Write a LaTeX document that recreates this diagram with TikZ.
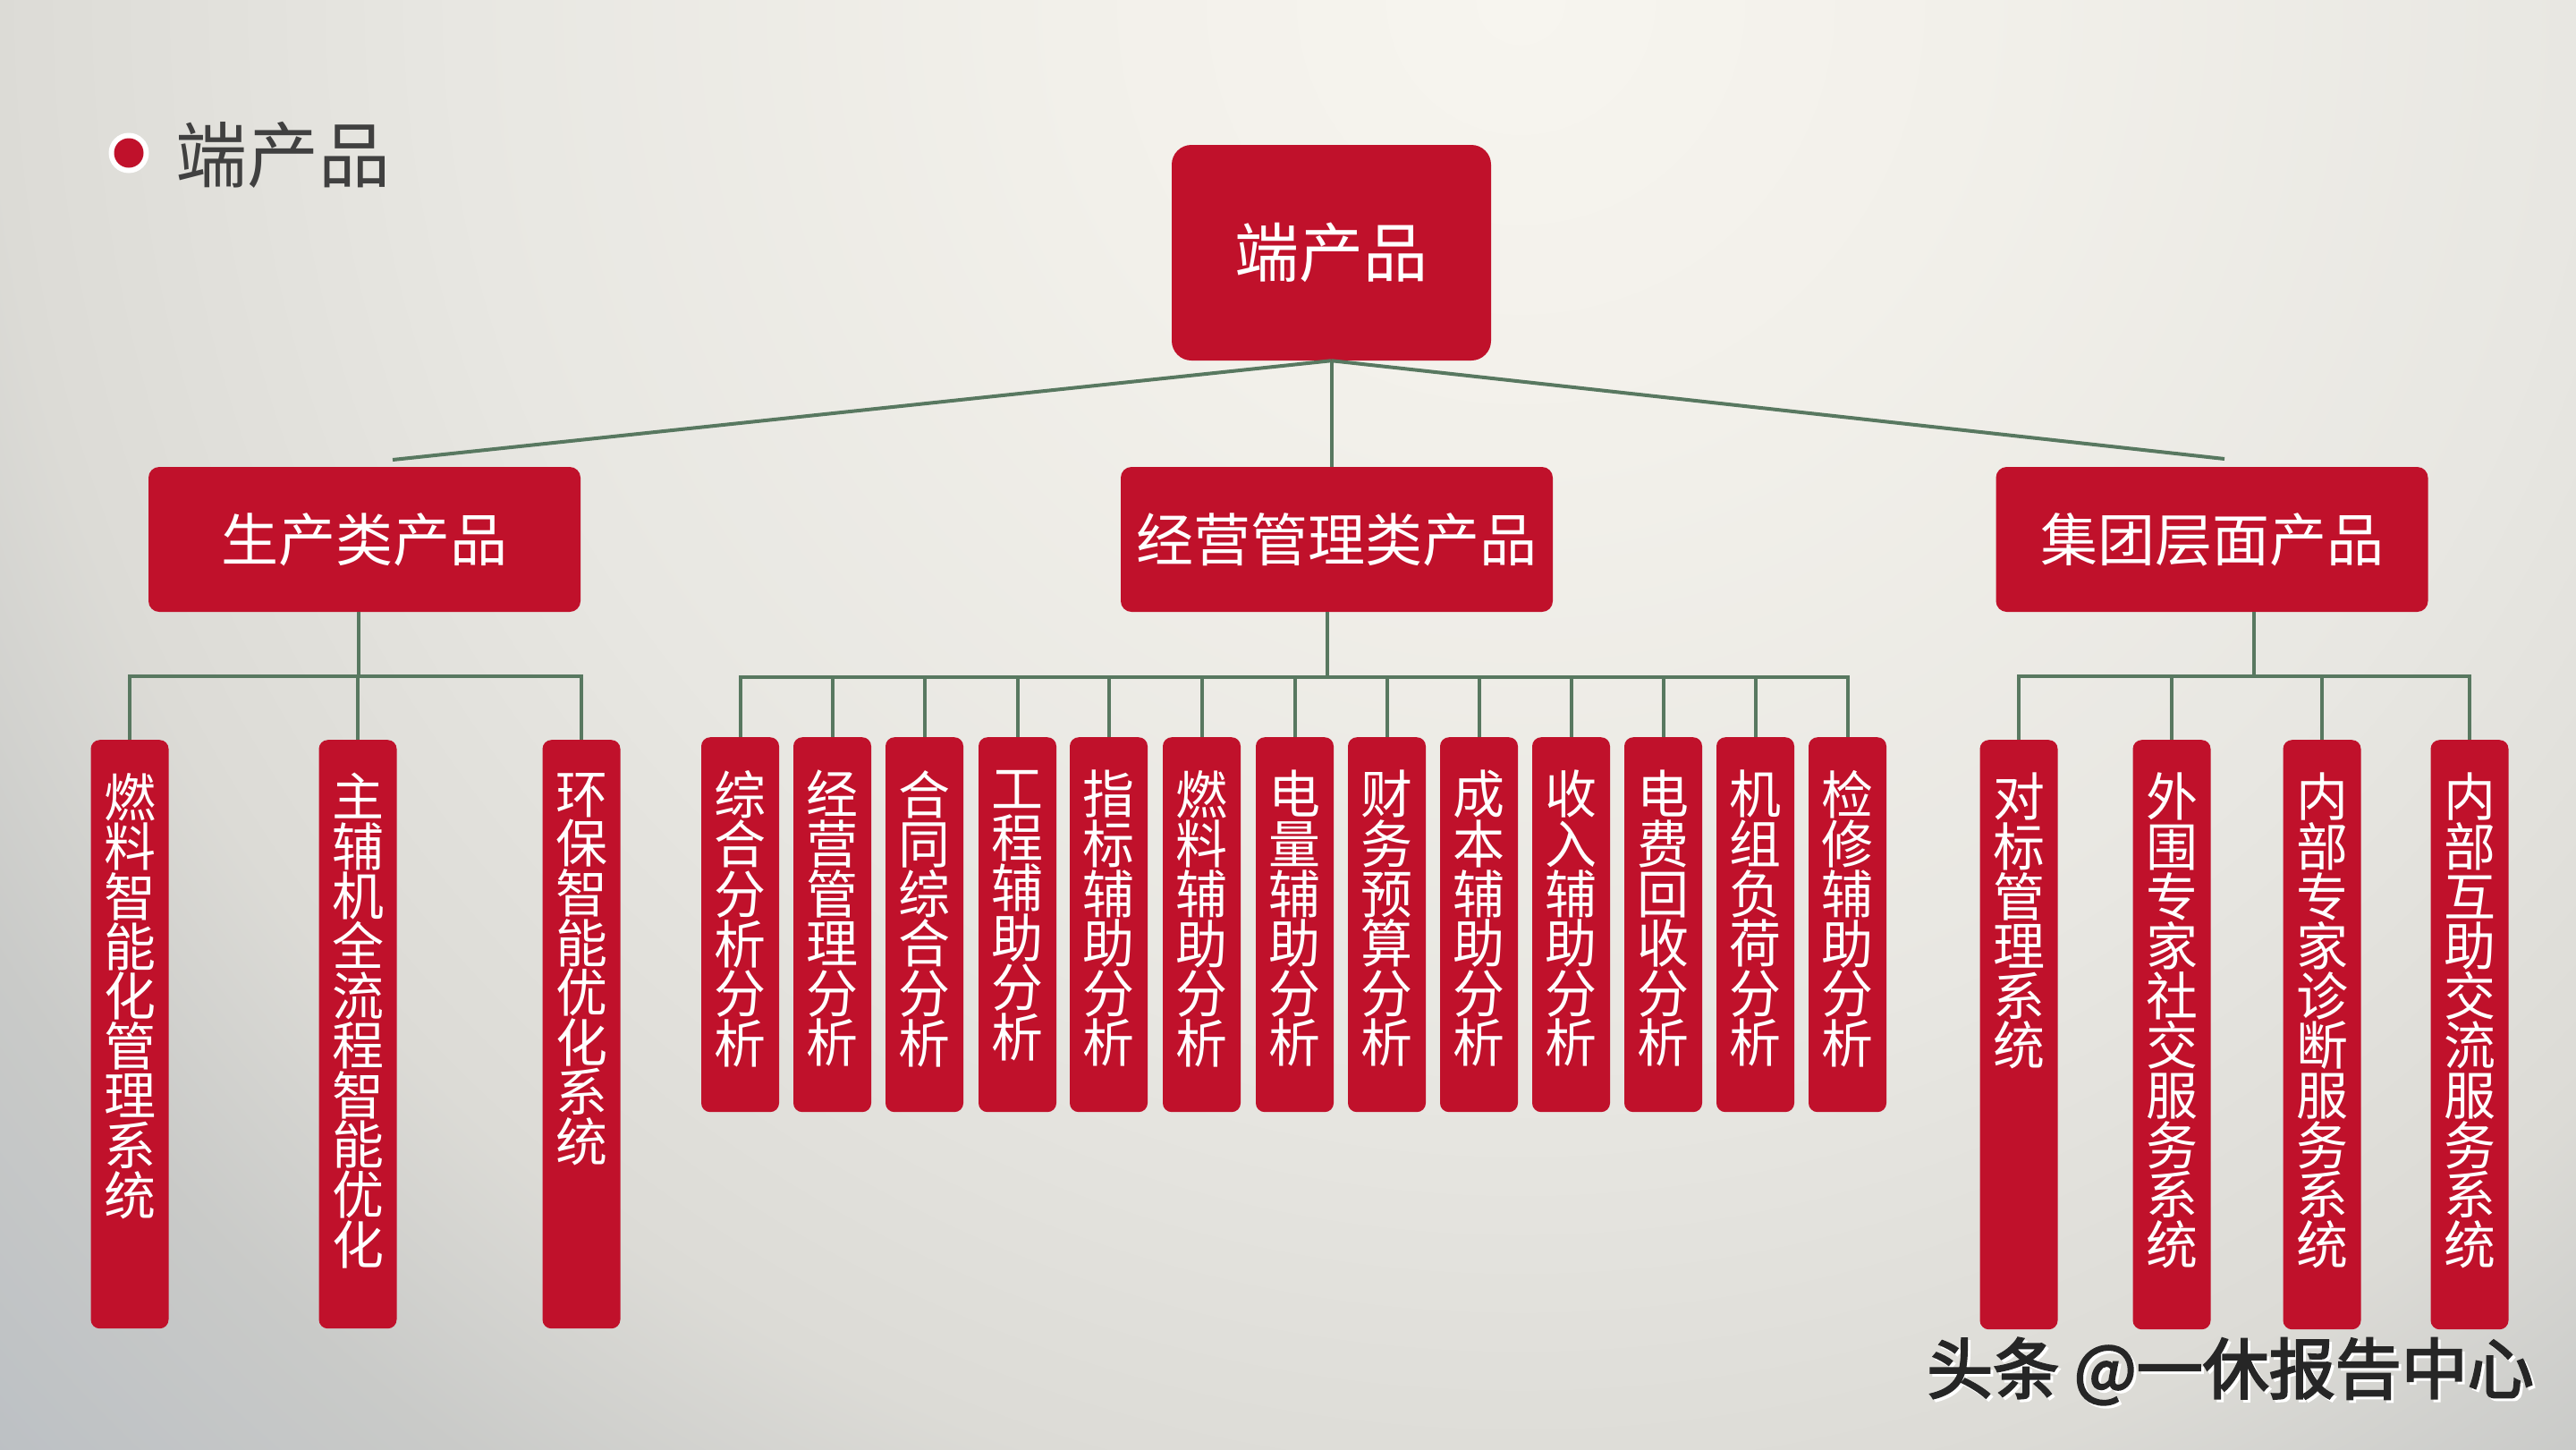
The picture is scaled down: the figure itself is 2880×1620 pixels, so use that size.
\documentclass[tikz,border=0pt]{standalone}
\usepackage{fontspec}
\setmainfont{Noto Sans CJK SC}
\newfontfamily\wmfont{Noto Sans CJK SC}[FakeBold=3]
\usetikzlibrary{calc}
\definecolor{boxred}{RGB}{192,17,43}
\definecolor{linegreen}{RGB}{88,120,96}
\definecolor{titlegray}{RGB}{64,64,64}
\definecolor{bgA}{RGB}{247,245,239}
\definecolor{bgB}{RGB}{242,240,234}
\definecolor{bgC}{RGB}{232,231,226}
\definecolor{bgD}{RGB}{220,219,214}
\definecolor{bgE}{RGB}{201,202,200}
\definecolor{bgF}{RGB}{188,192,196}
\pgfdeclareradialshading{bgshade}{\pgfpoint{0bp}{0bp}}{color(0bp)=(bgA); color(500bp)=(bgB); color(1180bp)=(bgC); color(1700bp)=(bgD); color(2004bp)=(bgE); color(2350bp)=(bgF); color(2400bp)=(bgF)}
\tikzset{
  rootbox/.style={fill=boxred, rounded corners=22pt, minimum width=357pt, minimum height=241pt, inner sep=0pt, text=white, font=\fontsize{72}{72}\selectfont},
  catbox/.style={fill=boxred, rounded corners=12pt, minimum width=483pt, minimum height=162pt, inner sep=0pt, text=white, font=\fontsize{64}{64}\selectfont},
  leafbox/.style={fill=boxred, rounded corners=10pt, minimum width=87pt, inner sep=0pt, anchor=north},
  leaftext/.style={text=white, font=\fontsize{58}{55.6}\selectfont, align=center, anchor=north, inner sep=0pt},
  conn/.style={draw=linegreen, line width=4pt},
}
\newcommand\mkleaf[5]{%
  \node[leafbox, minimum height=#4] (#1) at (#2,#3) {};
  \node[leaftext] (#1t) at ([yshift=-37pt]#1.north) {#5};
}
\begin{document}
\begin{tikzpicture}[x=1pt,y=-1pt]
\useasboundingbox (0,0) rectangle (2880,1620);
\begin{scope}
\clip (0,0) rectangle (2880,1620);
\node[inner sep=0pt] (bg) at (1700,0) {\pgfuseshading{bgshade}};
\end{scope}

% title
\node[circle, fill=white, minimum size=45pt, inner sep=0pt] (bw) at (144,171) {};
\node[circle, fill=boxred, minimum size=33pt, inner sep=0pt] (bd) at (144,171) {};
\node[anchor=west, inner sep=0pt, text=titlegray, font=\fontsize{80}{80}\selectfont] (title) at (196,173) {端产品};

% root and categories
\node[rootbox] (root) at (1488.5,282.5) {端产品};
\node[catbox] (prod) at (407.5,603) {生产类产品};
\node[catbox] (mgmt) at (1494.5,603) {经营管理类产品};
\node[catbox] (grp) at (2473,603) {集团层面产品};

\coordinate (pl) at (439,514);
\coordinate (pr) at (2487,513);
\draw[conn] (root.south) -- (pl);
\draw[conn] (root.south) -- (pr);
\draw[conn] (root.south) -- (root.south |- mgmt.north);

% left leaves
\mkleaf{a1}{145}{827}{658pt}{燃\\料\\智\\能\\化\\管\\理\\系\\统}
\mkleaf{a2}{400}{827}{658pt}{主\\辅\\机\\全\\流\\程\\智\\能\\优\\化}
\mkleaf{a3}{650}{827}{658pt}{环\\保\\智\\能\\优\\化\\系\\统}

% middle leaves
\mkleaf{b1}{827.5}{824}{419pt}{综\\合\\分\\析\\分\\析}
\mkleaf{b2}{930.5}{824}{419pt}{经\\营\\管\\理\\分\\析}
\mkleaf{b3}{1033.5}{824}{419pt}{合\\同\\综\\合\\分\\析}
\mkleaf{b4}{1137.5}{824}{419pt}{工\\程\\辅\\助\\分\\析}
\mkleaf{b5}{1239.5}{824}{419pt}{指\\标\\辅\\助\\分\\析}
\mkleaf{b6}{1343.5}{824}{419pt}{燃\\料\\辅\\助\\分\\析}
\mkleaf{b7}{1447.5}{824}{419pt}{电\\量\\辅\\助\\分\\析}
\mkleaf{b8}{1550.5}{824}{419pt}{财\\务\\预\\算\\分\\析}
\mkleaf{b9}{1653.5}{824}{419pt}{成\\本\\辅\\助\\分\\析}
\mkleaf{b10}{1756.5}{824}{419pt}{收\\入\\辅\\助\\分\\析}
\mkleaf{b11}{1859.5}{824}{419pt}{电\\费\\回\\收\\分\\析}
\mkleaf{b12}{1962.5}{824}{419pt}{机\\组\\负\\荷\\分\\析}
\mkleaf{b13}{2065.5}{824}{419pt}{检\\修\\辅\\助\\分\\析}

% right leaves
\mkleaf{c1}{2257}{827}{659pt}{对\\标\\管\\理\\系\\统}
\mkleaf{c2}{2428}{827}{659pt}{外\\围\\专\\家\\社\\交\\服\\务\\系\\统}
\mkleaf{c3}{2596}{827}{659pt}{内\\部\\专\\家\\诊\\断\\服\\务\\系\\统}
\mkleaf{c4}{2761}{827}{659pt}{内\\部\\互\\助\\交\\流\\服\\务\\系\\统}

% left bus
\coordinate (bl) at (401,756);
\draw[conn] (bl |- prod.south) -- (bl);
\draw[conn] (a1.north) -- (a1.north |- bl) -- (a3.north |- bl) -- (a3.north);
\draw[conn] (a2.north) -- (a2.north |- bl);

% middle bus
\coordinate (bm) at (1484,757);
\draw[conn] (bm |- mgmt.south) -- (bm);
\draw[conn] (b1.north) -- (b1.north |- bm) -- (b13.north |- bm) -- (b13.north);
\foreach \i in {2,...,12} {\draw[conn] (b\i.north) -- (b\i.north |- bm);}

% right bus
\coordinate (br) at (2520,756);
\draw[conn] (br |- grp.south) -- (br);
\draw[conn] (c1.north) -- (c1.north |- br) -- (c4.north |- br) -- (c4.north);
\draw[conn] (c2.north) -- (c2.north |- br);
\draw[conn] (c3.north) -- (c3.north |- br);

% watermark
\node[anchor=west, inner sep=0pt, text=white, font=\wmfont\fontsize{74}{74}\selectfont] (wms) at (2157,1536) {头条 @一休报告中心};
\node[anchor=west, inner sep=0pt, text=black!85, font=\wmfont\fontsize{74}{74}\selectfont] (wm) at (2154,1533) {头条 @一休报告中心};
\end{tikzpicture}
\end{document}
